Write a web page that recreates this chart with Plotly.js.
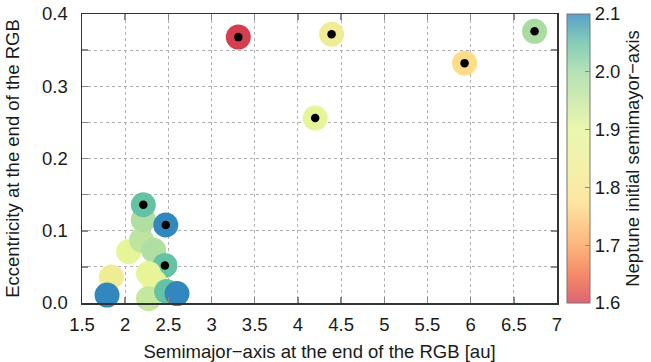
<!DOCTYPE html>
<html>
<head>
<meta charset="utf-8">
<script src="https://cdn.plot.ly/plotly-3.0.1.min.js"></script>
<style>html,body{margin:0;padding:0;background:#fff;}#plot{width:651px;height:362px;}</style>
</head>
<body>
<div id="plot"></div>
<script>
// Semimajor-axis at the end of the RGB [au]
const semimajorRGB = [2.04, 2.19, 2.21, 2.21, 2.47, 2.33, 2.46, 2.27, 2.34, 1.84, 1.79, 2.27, 2.48, 2.60, 3.31, 4.39, 6.74, 5.93, 4.20];
// Eccentricity at the end of the RGB
const eccRGB = [0.071, 0.087, 0.115, 0.136, 0.108, 0.073, 0.052, 0.041, 0.029, 0.036, 0.011, 0.006, 0.016, 0.013, 0.368, 0.372, 0.376, 0.332, 0.256];
// Neptune initial semimajor-axis
const neptuneA0 = [1.90, 1.96, 1.98, 2.05, 2.10, 1.98, 2.05, 1.90, 1.89, 1.83, 2.10, 1.95, 2.05, 2.10, 1.60, 1.83, 1.99, 1.77, 1.90];
// Highlighted runs (black dot)
const highlighted = [0, 0, 0, 1, 1, 0, 1, 0, 0, 0, 0, 0, 0, 0, 1, 1, 1, 1, 1];

const cmin = 1.6, cmax = 2.1;
const baseScale = [
  [0, '#d53e4f'], [0.1, '#f46d43'], [0.2, '#fba25c'], [0.35, '#fee08b'],
  [0.46, '#f0ec95'], [0.6, '#e6f598'], [0.8, '#a3d9a3'], [0.9, '#66c2a5'], [1, '#3288bd']
];
function lighten(hex, a) {
  const r = parseInt(hex.slice(1,3),16), g = parseInt(hex.slice(3,5),16), b = parseInt(hex.slice(5,7),16);
  const f = v => Math.round(a*v + (1-a)*255);
  return 'rgb(' + f(r) + ',' + f(g) + ',' + f(b) + ')';
}
const barScale = baseScale.map(s => [s[0], lighten(s[1], 0.8)]);

const hx = [], hy = [];
for (let i = 0; i < semimajorRGB.length; i++) {
  if (highlighted[i]) { hx.push(semimajorRGB[i]); hy.push(eccRGB[i]); }
}

const font = 'Liberation Sans, Arial, sans-serif';
const tickFont = { family: font, size: 18.5, color: '#1a1a1a' };
const titleFont = { family: font, size: 18.5, color: '#1a1a1a' };

const traces = [
  {
    type: 'scatter', mode: 'markers', x: semimajorRGB, y: eccRGB,
    marker: { size: 25, color: neptuneA0, colorscale: baseScale, cmin: cmin, cmax: cmax,
              showscale: false, line: { width: 0 } },
    hoverinfo: 'x+y', showlegend: false, cliponaxis: false
  },
  {
    type: 'scatter', mode: 'markers', x: hx, y: hy,
    marker: { size: 8.5, color: '#000' }, showlegend: false, cliponaxis: false
  },
  {
    type: 'scatter', mode: 'markers', x: [null], y: [null],
    marker: { size: 0, color: [cmin], colorscale: barScale, cmin: cmin, cmax: cmax, showscale: true,
      colorbar: {
        x: 1.021, xanchor: 'left', xpad: 0, y: 0.5, yanchor: 'middle', ypad: 0,
        len: 1, lenmode: 'fraction', thickness: 23, thicknessmode: 'pixels',
        outlinewidth: 1, outlinecolor: '#777',
        tickmode: 'linear', tick0: 1.6, dtick: 0.1, tickformat: '.1f',
        ticks: 'inside', ticklen: 5, tickcolor: '#888', ticklabelstandoff: 9,
        tickfont: tickFont,
        title: { text: 'Neptune initial semimayor\u2212axis', side: 'right', font: titleFont }
      } },
    showlegend: false, hoverinfo: 'skip'
  }
];

const layout = {
  width: 651, height: 362,
  margin: { l: 82, r: 94, t: 14, b: 59, autoexpand: false },
  paper_bgcolor: '#fff', plot_bgcolor: '#fff',
  font: { family: font, size: 18, color: '#1a1a1a' },
  xaxis: {
    range: [1.5, 7], tickmode: 'linear', tick0: 1.5, dtick: 0.5,
    ticks: 'inside', ticklen: 6, tickcolor: '#888', tickwidth: 1.5, ticklabelstandoff: 4,
    showline: true, linecolor: '#333', linewidth: 1.5, mirror: 'ticks',
    showgrid: true, gridcolor: '#b0b0b0', griddash: 'dot', gridwidth: 1, zeroline: false,
    tickfont: tickFont,
    title: { text: 'Semimajor\u2212axis at the end of the RGB [au]', font: titleFont }
  },
  yaxis: {
    range: [0, 0.4], tickmode: 'linear', tick0: 0, dtick: 0.1, tickformat: '.1f',
    ticks: 'inside', ticklen: 6, tickcolor: '#888', tickwidth: 1.5, ticklabelstandoff: 9,
    showline: true, linecolor: '#333', linewidth: 1.5, mirror: 'ticks',
    showgrid: true, gridcolor: '#b0b0b0', griddash: 'dot', gridwidth: 1, zeroline: false,
    minor: { dtick: 0.05, tick0: 0, ticks: 'inside', ticklen: 6, tickcolor: '#888', tickwidth: 1.5,
             showgrid: true, gridcolor: '#b0b0b0', griddash: 'dot', gridwidth: 1 },
    tickfont: tickFont, automargin: true,
    title: { text: 'Eccentricity at the end of the RGB', font: titleFont, standoff: 17 }
  }
};

Plotly.newPlot('plot', traces, layout, { displayModeBar: false, staticPlot: true });
</script>
</body>
</html>
